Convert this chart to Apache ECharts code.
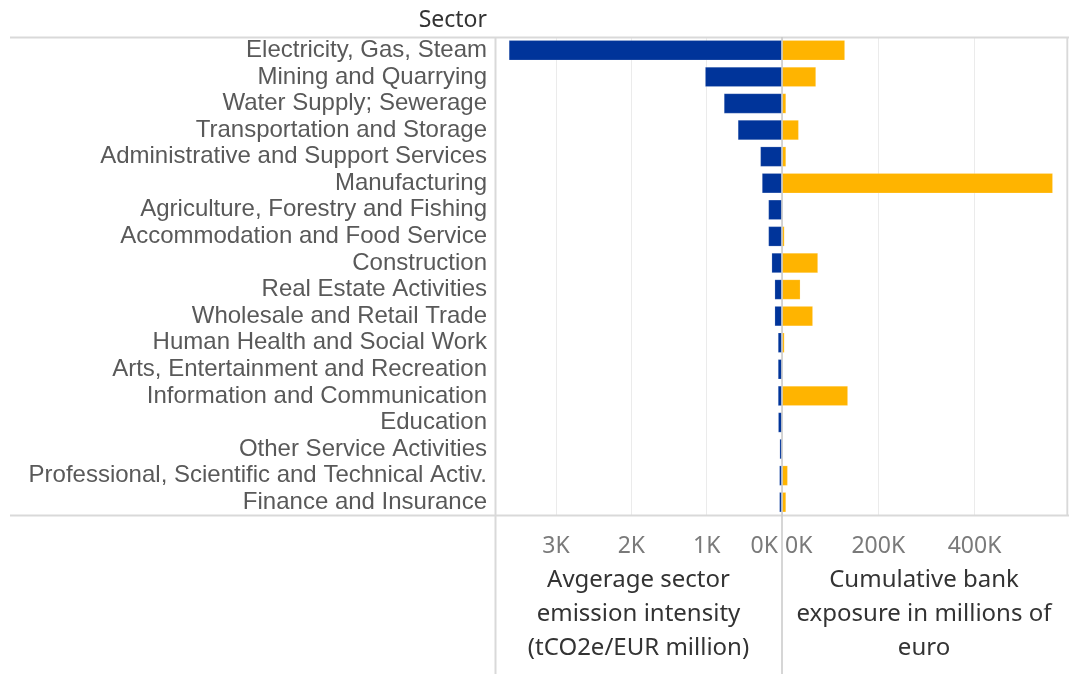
<!DOCTYPE html>
<html>
<head>
<meta charset="utf-8">
<script src="https://cdn.jsdelivr.net/npm/echarts@6/dist/echarts.min.js"></script>
<style>
html,body{margin:0;padding:0;background:#fff;}
#chart{width:1069px;height:674px;}
</style>
</head>
<body>
<div id="chart"></div>
<script>
var categories = [
  "Electricity, Gas, Steam",
  "Mining and Quarrying",
  "Water Supply; Sewerage",
  "Transportation and Storage",
  "Administrative and Support Services",
  "Manufacturing",
  "Agriculture, Forestry and Fishing",
  "Accommodation and Food Service",
  "Construction",
  "Real Estate Activities",
  "Wholesale and Retail Trade",
  "Human Health and Social Work",
  "Arts, Entertainment and Recreation",
  "Information and Communication",
  "Education",
  "Other Service Activities",
  "Professional, Scientific and Technical Activ.",
  "Finance and Insurance"
];
// Average sector emission intensity (tCO2e/EUR million)
var intensity = [3625, 1020, 770, 585, 287, 265, 180, 180, 137, 97, 97, 53, 53, 53, 50, 31, 35, 35];
// Cumulative bank exposure (millions of euro)
var exposure = [130600, 70500, 8300, 34600, 8300, 562500, 0, 5000, 74600, 38000, 64000, 5000, 0, 136800, 0, 0, 11800, 8300];

var leftTicks = [0, 1000, 2000, 3000];
var rightTicks = [0, 200000, 400000];

var tabFont = '"Noto Sans", sans-serif';
var lineCol = '#d9d9d9';
var tickStyle = {color: '#7a7a7a', fontFamily: tabFont, fontSize: 23};

var chart = echarts.init(document.getElementById('chart'), null, {renderer: 'canvas'});
chart.setOption({
  backgroundColor: '#fff',
  animation: false,
  grid: [
    {left: 495, width: 287, top: 37, height: 478.5, containLabel: false},
    {left: 782, width: 286, top: 37, height: 478.5, containLabel: false}
  ],
  xAxis: [
    {
      gridIndex: 0, type: 'value', inverse: true, min: 0, max: 3810, interval: 1000,
      axisLine: {show: false}, axisTick: {show: false},
      splitLine: {show: true, lineStyle: {color: '#ebebeb', width: 1}},
      axisLabel: {
        margin: 19, color: tickStyle.color, fontFamily: tabFont, fontSize: 23,
        alignMinLabel: 'right',
        formatter: function (v) {
          if (v === 0) return '{z|0K}';
          return leftTicks.indexOf(v) >= 0 ? (v / 1000) + 'K' : '';
        },
        rich: {z: {color: tickStyle.color, fontFamily: tabFont, fontSize: 23, padding: [0, 4, 0, 0]}}
      },
      name: 'Avgerage sector\nemission intensity\n(tCO2e/EUR million)',
      nameLocation: 'middle', nameGap: 48,
      nameTextStyle: {color: '#333', fontFamily: tabFont, fontSize: 24, lineHeight: 34}
    },
    {
      gridIndex: 1, type: 'value', min: 0, max: 590000, interval: 200000,
      axisLine: {show: false}, axisTick: {show: false},
      splitLine: {show: true, lineStyle: {color: '#ebebeb', width: 1}},
      axisLabel: {
        margin: 19, color: tickStyle.color, fontFamily: tabFont, fontSize: 23,
        alignMinLabel: 'left',
        formatter: function (v) {
          if (v === 0) return '{z|0K}';
          return rightTicks.indexOf(v) >= 0 ? (v / 1000) + 'K' : '';
        },
        rich: {z: {color: tickStyle.color, fontFamily: tabFont, fontSize: 23, padding: [0, 0, 0, 3]}}
      },
      name: 'Cumulative bank\nexposure in millions of\neuro',
      nameLocation: 'middle', nameGap: 48,
      nameTextStyle: {color: '#333', fontFamily: tabFont, fontSize: 24, lineHeight: 34}
    }
  ],
  yAxis: [
    {
      gridIndex: 0, type: 'category', data: categories, inverse: true,
      axisLine: {show: false}, axisTick: {show: false}, splitLine: {show: false},
      axisLabel: {interval: 0, margin: 8, color: '#595959', fontFamily: '"Liberation Sans", Arial, sans-serif', fontSize: 24}
    },
    {
      gridIndex: 1, type: 'category', data: categories, inverse: true,
      axisLine: {show: false}, axisTick: {show: false}, splitLine: {show: false},
      axisLabel: {show: false}
    }
  ],
  series: [
    {
      type: 'bar', xAxisIndex: 0, yAxisIndex: 0, data: intensity,
      barCategoryGap: '25%',
      itemStyle: {color: '#00349A', borderColor: 'rgba(255,255,255,0.35)', borderWidth: 0.5}
    },
    {
      type: 'bar', xAxisIndex: 1, yAxisIndex: 1, data: exposure,
      barCategoryGap: '25%',
      itemStyle: {color: '#FFB400', borderColor: 'rgba(255,255,255,0.35)', borderWidth: 0.5}
    }
  ],
  graphic: [
    {type: 'line', z: 10, silent: true, shape: {x1: 10, y1: 37.5, x2: 1069, y2: 37.5}, style: {stroke: lineCol, lineWidth: 2}},
    {type: 'line', z: 10, silent: true, shape: {x1: 10, y1: 515.5, x2: 1069, y2: 515.5}, style: {stroke: lineCol, lineWidth: 2}},
    {type: 'line', z: 10, silent: true, shape: {x1: 495.5, y1: 37, x2: 495.5, y2: 674}, style: {stroke: lineCol, lineWidth: 2}},
    {type: 'line', z: 10, silent: true, shape: {x1: 782, y1: 37, x2: 782, y2: 674}, style: {stroke: '#c8c8c8', lineWidth: 1.5}},
    {type: 'line', z: 10, silent: true, shape: {x1: 1067.5, y1: 37, x2: 1067.5, y2: 515}, style: {stroke: lineCol, lineWidth: 1.5}},
    {type: 'text', z: 10, silent: true, style: {text: 'Sector', x: 487, y: 20, align: 'right', verticalAlign: 'middle', fill: '#333', font: '23px "Noto Sans", sans-serif'}}
  ]
});
</script>
</body>
</html>
